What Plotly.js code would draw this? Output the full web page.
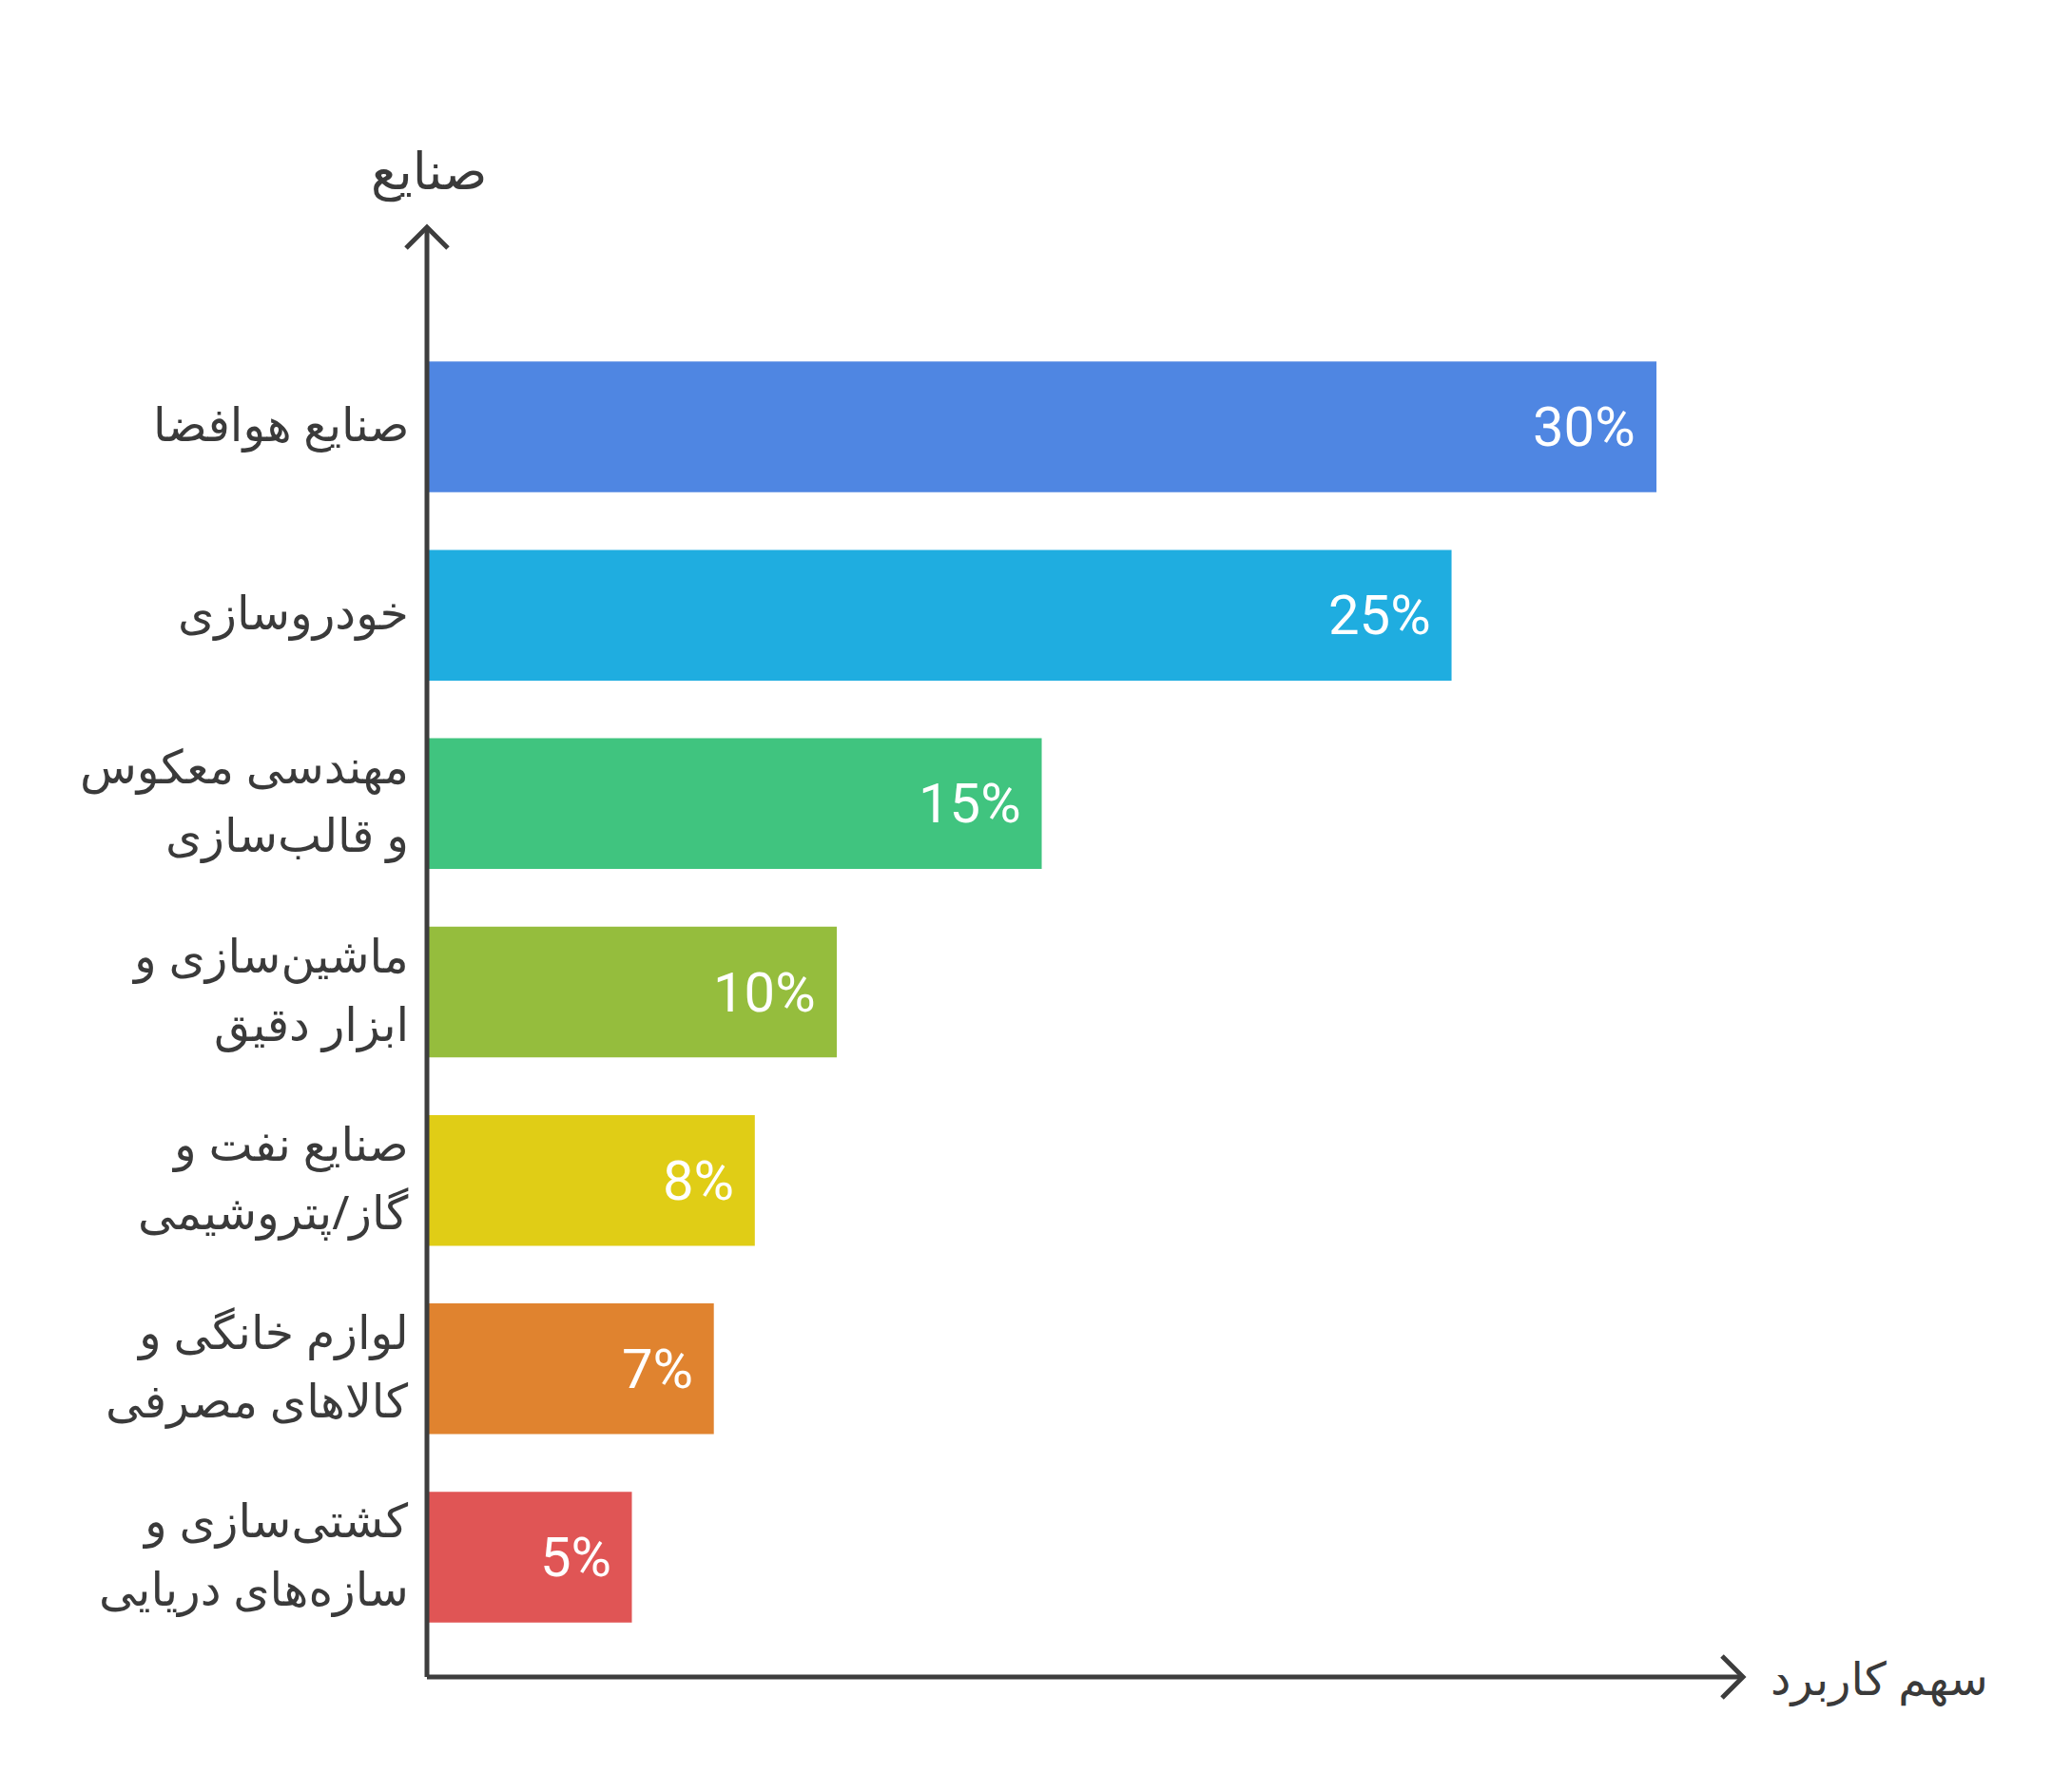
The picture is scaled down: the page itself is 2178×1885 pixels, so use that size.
<!DOCTYPE html>
<html>
<head>
<meta charset="utf-8">
<script src="https://cdn.plot.ly/plotly-3.0.1.min.js"></script>
<style>
html,body{margin:0;padding:0;background:#fff;}
#chart{width:2178px;height:1885px;}
</style>
</head>
<body>
<div id="chart"></div>
<script>
// ---- data ----
const categories = [
  "صنایع هوافضا",
  "خودروسازی",
  "مهندسی معکوس<br>و قالب‌سازی",
  "ماشین‌سازی و<br>ابزار دقیق",
  "صنایع نفت و<br>گاز/پتروشیمی",
  "لوازم خانگی و<br>کالاهای مصرفی",
  "کشتی‌سازی و<br>سازه‌های دریایی"
];
const shares = [30, 25, 15, 10, 8, 7, 5];
const valueLabels = ["30%", "25%", "15%", "10%", "8%", "7%", "5%"];
const barColors = ["#4F86E2", "#1FADE0", "#40C47F", "#95BD3D", "#E0CD16", "#E0832F", "#E05555"];
const xAxisTitle = "سهم کاربرد";
const yAxisTitle = "صنایع";

// ---- layout geometry (pixels) ----
const W = 2178, H = 1885;
const plotL = 449, plotR = 1833, plotT = 350, plotB = 1737;
const xMax = 32.11;
const pw = plotR - plotL, ph = plotB - plotT;
const px = x => (x - plotL) / pw;
const py = y => (plotB - y) / ph;

const axisColor = "#3d3d3d";
const axX = 449, axY = 1764, topTip = 239, rightTip = 1833, arm = 22;
const arabicFont = "Noto Sans, DejaVu Sans, sans-serif";
const labelRight = 432, lineGap = 72, labelSize = 49, labelLift = 4;

const idx = categories.map((_, i) => i);

const trace = {
  type: "bar",
  orientation: "h",
  x: shares,
  y: idx,
  marker: { color: barColors, line: { width: 0 } },
  hoverinfo: "skip"
};

const annotations = shares.map((v, i) => ({
  x: v, y: i, xref: "x", yref: "y",
  text: valueLabels[i],
  showarrow: false,
  xanchor: "right", yanchor: "middle",
  xshift: -20,
  font: { family: "Roboto, sans-serif", size: 58, color: "#FFFFFF" }
}));

// category labels, one annotation per line for exact line spacing
categories.forEach((c, i) => {
  const lines = c.split("<br>");
  const n = lines.length;
  lines.forEach((ln, k) => {
    annotations.push({
      x: px(labelRight), y: i, xref: "paper", yref: "y",
      text: ln, showarrow: false, xanchor: "right", yanchor: "middle",
      yshift: ((n - 1) / 2 - k) * lineGap + labelLift,
      font: { family: arabicFont, size: labelSize, color: "#3a3a3a" }
    });
  });
});

annotations.push({
  x: px(451), y: py(178), xref: "paper", yref: "paper",
  text: yAxisTitle, showarrow: false, xanchor: "center", yanchor: "middle",
  font: { family: arabicFont, size: 54, color: "#3a3a3a" }
});
annotations.push({
  x: px(1860), y: py(1764), xref: "paper", yref: "paper",
  text: xAxisTitle, showarrow: false, xanchor: "left", yanchor: "middle",
  font: { family: arabicFont, size: 48, color: "#3a3a3a" }
});

const shapes = [
  { type: "line", xref: "paper", yref: "paper", x0: px(axX), x1: px(axX), y0: py(axY), y1: py(topTip),
    line: { color: axisColor, width: 5 } },
  { type: "line", xref: "paper", yref: "paper", x0: px(axX), x1: px(rightTip), y0: py(axY), y1: py(axY),
    line: { color: axisColor, width: 5 } },
  { type: "path", xref: "paper", yref: "paper",
    path: `M ${px(axX - arm)} ${py(topTip + arm)} L ${px(axX)} ${py(topTip)} L ${px(axX + arm)} ${py(topTip + arm)}`,
    line: { color: axisColor, width: 5 } },
  { type: "path", xref: "paper", yref: "paper",
    path: `M ${px(rightTip - arm)} ${py(axY - arm)} L ${px(rightTip)} ${py(axY)} L ${px(rightTip - arm)} ${py(axY + arm)}`,
    line: { color: axisColor, width: 5 } }
];

const layout = {
  width: W, height: H,
  margin: { l: plotL, r: W - plotR, t: plotT, b: H - plotB, pad: 0 },
  paper_bgcolor: "#ffffff",
  plot_bgcolor: "#ffffff",
  showlegend: false,
  bargap: 0.306,
  xaxis: {
    range: [0, xMax], showgrid: false, zeroline: false, showline: false,
    showticklabels: false, ticks: "", fixedrange: true
  },
  yaxis: {
    range: [categories.length - 0.5, -0.5],
    tickmode: "array", tickvals: idx, ticktext: categories,
    showticklabels: false,
    showgrid: false, zeroline: false, showline: false, ticks: "",
    fixedrange: true
  },
  annotations: annotations,
  shapes: shapes
};

Plotly.newPlot("chart", [trace], layout, { displayModeBar: false, staticPlot: true });
</script>
</body>
</html>
